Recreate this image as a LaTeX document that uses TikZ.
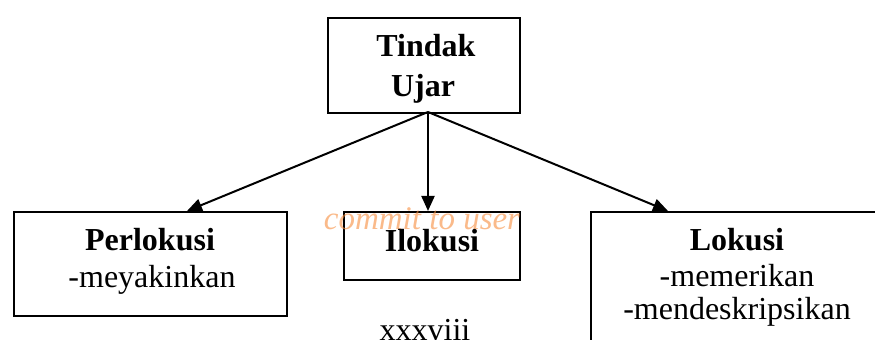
\documentclass[tikz,border=0pt]{standalone}
\usepackage{fontspec}
\setmainfont{Liberation Serif}
\usetikzlibrary{arrows.meta}
\definecolor{wmorange}{RGB}{247,140,60}
\tikzset{
  box/.style={draw, line width=1pt, inner sep=0pt, anchor=north west},
  lbl/.style={anchor=base, inner sep=0pt, font=\fontsize{16}{19}\selectfont},
  conn/.style={line width=1pt, -{Triangle[length=7.5pt,width=6.5pt]}},
}
\begin{document}
\begin{tikzpicture}[x=0.5pt,y=-0.5pt]
\useasboundingbox (0,0) rectangle (875,340);
% boxes
\node[box, minimum width=96pt, minimum height=47.5pt] (tu) at (327,17) {};
\node[box, minimum width=136.5pt, minimum height=52pt] (pl) at (13,211) {};
\node[box, minimum width=88pt, minimum height=34pt] (il) at (343,211) {};
\node[box, minimum width=160pt, minimum height=80pt] (lk) at (590,211) {};
% watermark
\node[lbl, font=\fontsize{16.5}{19}\selectfont\itshape, text=wmorange, opacity=0.6] (wm) at (422,230) {commit to user};
% texts
\node[lbl, font=\fontsize{16}{19}\selectfont\bfseries] (t1) at (426,56.5) {Tindak};
\node[lbl, font=\fontsize{16}{19}\selectfont\bfseries] (t2) at (423,96.5) {Ujar};
\node[lbl, font=\fontsize{16}{19}\selectfont\bfseries] (p1) at (150,251) {Perlokusi};
\node[lbl] (p2) at (152,288) {-meyakinkan};
\node[lbl, font=\fontsize{16}{19}\selectfont\bfseries] (i1) at (432,251.5) {Ilokusi};
\node[lbl, font=\fontsize{16}{19}\selectfont\bfseries] (l1) at (737,251) {Lokusi};
\node[lbl] (l2) at (737,286.5) {-memerikan};
\node[lbl] (l3) at (737,320) {-mendeskripsikan};
\node[lbl] (pg) at (425,341) {xxxviii};
% connectors
\coordinate (src) at (428,112);
\coordinate (plt) at (187,211);
\coordinate (ilt) at (428,211);
\coordinate (lkt) at (668,211);
\draw[conn] (src) -- (plt);
\draw[conn] (src) -- (ilt);
\draw[conn] (src) -- (lkt);
\end{tikzpicture}
\end{document}
